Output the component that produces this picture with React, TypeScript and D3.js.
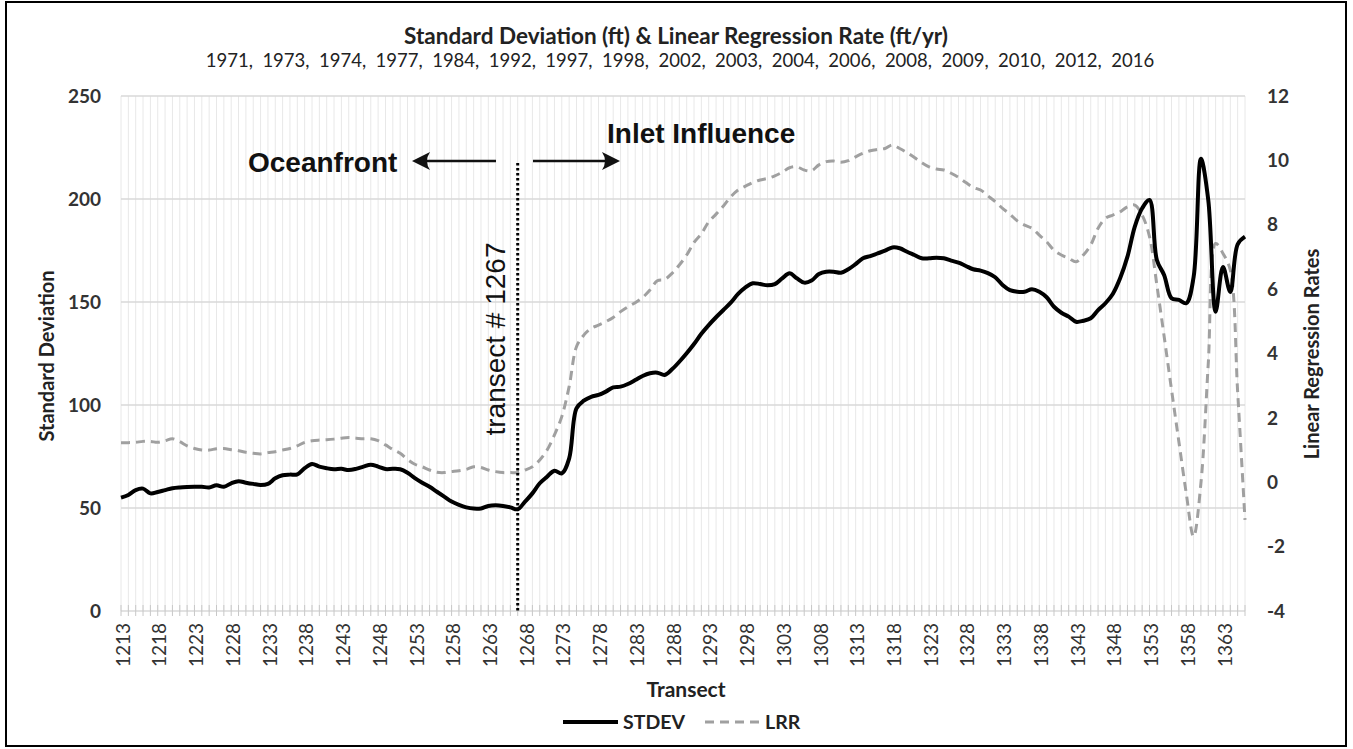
import React from "react";
import * as d3 from "d3";

const transects: number[] = d3.range(1213, 1367);

const stdevValues: number[] = [
  55.0, 56.3, 58.7, 59.4, 57.1, 57.8, 58.7, 59.6, 60.0, 60.2,
  60.3, 60.3, 60.0, 61.0, 60.3, 62.0, 63.0, 62.3, 61.7, 61.2,
  61.7, 64.4, 65.9, 66.2, 66.3, 69.3, 71.4, 70.1, 69.3, 68.8,
  69.0, 68.4, 69.0, 70.1, 71.0, 70.1, 68.9, 69.0, 68.8, 67.1,
  64.5, 62.3, 60.3, 57.9, 55.5, 53.1, 51.5, 50.3, 49.7, 49.8,
  51.0, 51.3, 51.0, 50.3, 49.4, 53.1, 57.1, 62.0, 65.2, 68.1,
  66.8, 74.0, 98.4, 102.1, 104.0, 104.9, 106.5, 108.6, 108.9, 110.2,
  112.1, 114.1, 115.4, 115.7, 114.6, 117.3, 121.0, 125.1, 129.6, 134.6,
  138.8, 142.6, 146.1, 149.7, 153.9, 157.1, 159.1, 158.7, 158.1, 158.7,
  161.5, 163.9, 161.5, 159.4, 160.4, 163.6, 164.7, 164.7, 164.2, 165.9,
  168.4, 171.2, 172.3, 173.6, 174.9, 176.5, 176.1, 174.4, 172.8, 171.2,
  171.2, 171.5, 171.2, 170.1, 169.1, 167.5, 165.9, 165.2, 164.0, 162.0,
  158.3, 155.8, 155.0, 155.0, 156.2, 155.0, 152.3, 147.7, 144.8, 142.9,
  140.4, 140.9, 142.1, 146.1, 149.4, 153.9, 161.5, 172.0, 186.6, 195.5,
  199.5, 170.4, 163.0, 151.8, 151.0, 149.4, 162.0, 219.5, 199.5, 145.3,
  167.0, 154.9, 178.0, 181.7,
];

const lrrValues: number[] = [
  1.23, 1.23, 1.24, 1.27, 1.27, 1.24, 1.29, 1.35, 1.26, 1.13,
  1.05, 1.0, 1.0, 1.04, 1.05, 1.01, 0.98, 0.93, 0.9, 0.88,
  0.92, 0.95, 1.0, 1.05, 1.13, 1.24, 1.29, 1.31, 1.32, 1.34,
  1.37, 1.39, 1.37, 1.35, 1.35, 1.29, 1.16, 1.02, 0.9, 0.71,
  0.56, 0.48, 0.38, 0.31, 0.3, 0.33, 0.36, 0.4, 0.48, 0.46,
  0.38, 0.33, 0.3, 0.3, 0.3, 0.38, 0.48, 0.69, 1.0, 1.47,
  2.04, 2.97, 4.21, 4.57, 4.78, 4.88, 4.99, 5.12, 5.3, 5.45,
  5.58, 5.74, 5.97, 6.26, 6.3, 6.49, 6.75, 7.06, 7.45, 7.72,
  8.09, 8.33, 8.58, 8.87, 9.08, 9.2, 9.31, 9.39, 9.44, 9.52,
  9.63, 9.77, 9.8, 9.7, 9.68, 9.86, 9.96, 9.98, 9.94, 9.99,
  10.11, 10.22, 10.3, 10.34, 10.37, 10.48, 10.37, 10.24, 10.09, 9.93,
  9.8, 9.73, 9.7, 9.6, 9.47, 9.31, 9.16, 9.08, 8.9, 8.72,
  8.51, 8.33, 8.12, 7.99, 7.89, 7.68, 7.47, 7.21, 7.06, 6.96,
  6.85, 7.06, 7.37, 7.89, 8.2, 8.3, 8.4, 8.56, 8.61, 8.3,
  7.63, 6.13, 4.52, 2.87, 1.26, -0.34, -1.69, -0.03, 3.69, 7.42,
  7.11, 6.59, 2.81, -1.17,
];

const xTickLabels: number[] = d3.range(1213, 1367, 5);
const leftTicks: number[] = [0, 50, 100, 150, 200, 250];
const rightTicks: number[] = [-4, -2, 0, 2, 4, 6, 8, 10, 12];
const surveyYears: string[] = [
  "1971", "1973", "1974", "1977", "1984", "1992", "1997", "1998", "2002",
  "2003", "2004", "2006", "2008", "2009", "2010", "2012", "2016",
];
const markerTransect = 1267;

const calibri = "Lato, 'Open Sans', sans-serif";
const arial = "'Liberation Sans', Arial, sans-serif";

export default function App() {
  const W = 1353;
  const H = 749;
  const x = d3.scaleLinear().domain([1213, 1366]).range([121, 1245]);
  const yL = d3.scaleLinear().domain([0, 250]).range([611, 96]);
  const yR = d3.scaleLinear().domain([-4, 12]).range([611, 96]);

  const curve = d3.curveCatmullRom.alpha(0.5);
  const stdevLine = d3
    .line<number>()
    .x((_, i) => x(transects[i]))
    .y((d) => yL(d))
    .curve(curve)(stdevValues) as string;
  const lrrLine = d3
    .line<number>()
    .x((_, i) => x(transects[i]))
    .y((d) => yR(d))
    .curve(curve)(lrrValues) as string;

  const mx = x(markerTransect);

  return (
    <svg
      width={W}
      height={H}
      style={{ position: "absolute", left: 0, top: 0, display: "block", background: "#fff" }}
    >
      <rect x={0} y={0} width={W} height={H} fill="#fff" />
      <rect x={6} y={2} width={1340} height={744} fill="none" stroke="#000" strokeWidth={2} />

      {/* titles */}
      <text x={676} y={44} textAnchor="middle" fontFamily={calibri} fontWeight={700} fontSize={22.5} fill="#222">
        Standard Deviation (ft) &amp; Linear Regression Rate (ft/yr)
      </text>
      <text x={680} y={67} textAnchor="middle" fontFamily={calibri} fontSize={18.5} fill="#222" style={{ whiteSpace: "pre" }}>
        {surveyYears.join(",  ")}
      </text>

      {/* vertical gridlines */}
      {transects.map((t) => (
        <line key={"vg" + t} x1={x(t)} x2={x(t)} y1={yL(250)} y2={yL(0)} stroke="#e8e8e8" strokeWidth={1} />
      ))}
      {/* horizontal gridlines */}
      {leftTicks.map((v) => (
        <line key={"hg" + v} x1={x(1213)} x2={x(1366)} y1={yL(v)} y2={yL(v)} stroke="#d9d9d9" strokeWidth={1.5} />
      ))}
      {/* minor ticks on category axis */}
      {transects.map((t) => (
        <line key={"mt" + t} x1={x(t)} x2={x(t)} y1={605} y2={616} stroke="#c8c8c8" strokeWidth={1} />
      ))}

      {/* left axis labels */}
      {leftTicks.map((v) => (
        <text key={"ll" + v} x={101} y={yL(v)} dy="0.35em" textAnchor="end" fontFamily={calibri} fontWeight={700} fontSize={19} fill="#333">
          {v}
        </text>
      ))}
      {/* right axis labels */}
      {rightTicks.map((v) => (
        <text key={"rl" + v} x={1267} y={yR(v)} dy="0.35em" textAnchor="start" fontFamily={calibri} fontWeight={700} fontSize={19} fill="#333">
          {v}
        </text>
      ))}
      {/* x tick labels */}
      {xTickLabels.map((t) => (
        <text
          key={"xl" + t}
          transform={`translate(${x(t) + 2},623) rotate(-90)`}
          dy="0.35em"
          textAnchor="end"
          fontFamily={calibri}
          fontSize={19}
          fill="#333"
        >
          {t}
        </text>
      ))}

      {/* axis titles */}
      <text transform="translate(47,356) rotate(-90)" dy="0.35em" textAnchor="middle" fontFamily={calibri} fontWeight={700} fontSize={20} fill="#222">
        Standard Deviation
      </text>
      <text transform="translate(1312,354) rotate(-90)" dy="0.35em" textAnchor="middle" fontFamily={calibri} fontWeight={700} fontSize={20} fill="#222">
        Linear Regression Rates
      </text>
      <text x={686} y={697} textAnchor="middle" fontFamily={calibri} fontWeight={700} fontSize={21} fill="#222">
        Transect
      </text>

      {/* series */}
      <path d={lrrLine} fill="none" stroke="#a0a0a0" strokeWidth={3} strokeDasharray="9,6" />
      <path d={stdevLine} fill="none" stroke="#000" strokeWidth={4} strokeLinejoin="round" />

      {/* marker line */}
      <line x1={mx} x2={mx} y1={163} y2={yL(0)} stroke="#000" strokeWidth={3} strokeDasharray="2.5,2.5" />
      <text transform={`translate(${mx - 13},339) rotate(-90)`} textAnchor="middle" fontFamily={arial} fontSize={28} fill="#111">
        transect # 1267
      </text>

      {/* annotations */}
      <text x={248} y={172} fontFamily={arial} fontWeight={700} fontSize={28} fill="#111">
        Oceanfront
      </text>
      <line x1={424} x2={496} y1={161} y2={161} stroke="#111" strokeWidth={2.5} />
      <path d="M412,161 L430,152 Q424,161 430,170 Z" fill="#111" />

      <text x={607} y={143} fontFamily={arial} fontWeight={700} fontSize={28} fill="#111">
        Inlet Influence
      </text>
      <line x1={533} x2={608} y1={161} y2={161} stroke="#111" strokeWidth={2.5} />
      <path d="M620,161 L602,152 Q608,161 602,170 Z" fill="#111" />

      {/* legend */}
      <line x1={563} x2={618} y1={722} y2={722} stroke="#000" strokeWidth={4} />
      <text x={623} y={722} dy="0.35em" fontFamily={calibri} fontWeight={700} fontSize={19.5} fill="#222">
        STDEV
      </text>
      <line x1={705} x2={760} y1={722} y2={722} stroke="#a0a0a0" strokeWidth={3} strokeDasharray="9,6" />
      <text x={765} y={722} dy="0.35em" fontFamily={calibri} fontWeight={700} fontSize={19.5} fill="#222">
        LRR
      </text>
    </svg>
  );
}
